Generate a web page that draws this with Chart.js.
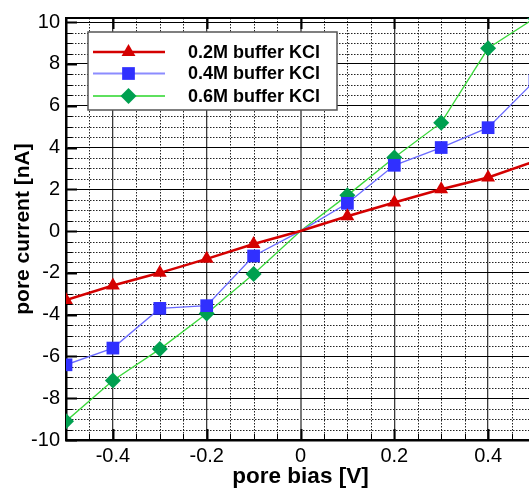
<!DOCTYPE html>
<html>
<head>
<meta charset="utf-8">
<script src="https://cdn.jsdelivr.net/npm/chart.js@4.4.1/dist/chart.umd.min.js"></script>
<style>
    html, body { margin: 0; padding: 0; background: #fff; overflow: hidden; }
    #wrap { width: 529px; height: 492px; overflow: hidden; }
</style>
</head>
<body>
<div id="wrap">
    <canvas id="iv-chart" width="545" height="492"></canvas>
</div>
<script>
// Pore current vs bias for three buffer concentrations
const bias = [-0.5, -0.4, -0.3, -0.2, -0.1, 0, 0.1, 0.2, 0.3, 0.4, 0.5];
const kcl02 = [-3.3, -2.6, -2.0, -1.33, -0.62, 0, 0.71, 1.37, 2.0, 2.57, 3.35];
const kcl04 = [-6.4, -5.6, -3.7, -3.57, -1.19, 0, 1.33, 3.15, 4.0, 4.95, 7.2];
const kcl06 = [-9.1, -7.15, -5.65, -3.95, -2.05, 0, 1.71, 3.52, 5.19, 8.75, 10.2];

const seriesNames = ['0.2M buffer KCl', '0.4M buffer KCl', '0.6M buffer KCl'];
const xTicks = [-0.4, -0.2, 0, 0.2, 0.4];
const yTicks = [-10, -8, -6, -4, -2, 0, 2, 4, 6, 8, 10];

const FONT = "'Liberation Sans', Arial, sans-serif";

const styles = [
    { line: '#d40000', mark: '#d40000', width: 2.6, shape: 'triangle', r: 8 },
    { line: '#6a6aff', mark: '#3030ff', width: 1.3, shape: 'rect', r: 9 },
    { line: '#3ad83a', mark: '#00a050', width: 1.3, shape: 'rectRot', r: 8 }
];

function toPoints(values) {
    return bias.map((b, i) => ({ x: b, y: values[i] }));
}

function makeDataset(label, values, st) {
    return {
        label: label,
        data: toPoints(values),
        showLine: true,
        borderColor: st.line,
        borderWidth: st.width,
        backgroundColor: st.mark,
        pointBackgroundColor: st.mark,
        pointBorderColor: st.mark,
        pointBorderWidth: 0,
        pointStyle: st.shape,
        pointRadius: ctx => (bias[ctx.dataIndex] === 0 ? 0 : st.r),
        pointHoverRadius: ctx => (bias[ctx.dataIndex] === 0 ? 0 : st.r)
    };
}

function drawMarker(ctx, shape, x, y, r) {
    ctx.beginPath();
    if (shape === 'triangle') {
        for (let k = 0; k < 3; k++) {
            const a = k * 2 * Math.PI / 3;
            const px = x + Math.sin(a) * r;
            const py = y - Math.cos(a) * r;
            if (k === 0) ctx.moveTo(px, py); else ctx.lineTo(px, py);
        }
    } else if (shape === 'rect') {
        const s = r * Math.SQRT1_2;
        ctx.rect(x - s, y - s, 2 * s, 2 * s);
    } else {
        ctx.moveTo(x - r, y);
        ctx.lineTo(x, y - r);
        ctx.lineTo(x + r, y);
        ctx.lineTo(x, y + r);
    }
    ctx.closePath();
    ctx.fill();
}

// dotted minor grid plus inward tick marks and the top frame line
const framePlugin = {
    id: 'frame',
    beforeDraw(chart) {
        const { ctx, chartArea: a, scales: { x, y } } = chart;
        ctx.save();
        ctx.strokeStyle = '#222';
        ctx.lineWidth = 1;
        ctx.setLineDash([1.5, 1.5]);
        for (let i = -10; i <= 10; i++) {
            const v = i * 0.05;
            if (i % 4 === 0) continue;
            const px = Math.round(x.getPixelForValue(v)) + 0.5;
            ctx.beginPath();
            ctx.moveTo(px, a.top);
            ctx.lineTo(px, a.bottom);
            ctx.stroke();
        }
        for (let i = -20; i <= 20; i++) {
            const v = i * 0.5;
            if (i % 4 === 0 || v > y.max) continue;
            const py = Math.round(y.getPixelForValue(v)) + 0.5;
            ctx.beginPath();
            ctx.moveTo(a.left, py);
            ctx.lineTo(a.right, py);
            ctx.stroke();
        }
        ctx.restore();
    },
    beforeDatasetsDraw(chart) {
        const { ctx, chartArea: a, scales: { x, y } } = chart;
        ctx.save();
        ctx.strokeStyle = '#000';
        // left axis ticks
        for (let i = -20; i <= 20; i++) {
            const v = i * 0.5;
            if (v > y.max) continue;
            const major = i % 4 === 0;
            const py = Math.round(y.getPixelForValue(v)) + 0.5;
            ctx.lineWidth = major ? 2 : 1;
            ctx.beginPath();
            ctx.moveTo(a.left, py);
            ctx.lineTo(a.left + (major ? 11 : 6), py);
            ctx.stroke();
        }
        // bottom and top axis ticks
        for (let i = -10; i <= 10; i++) {
            const v = i * 0.05;
            const major = i % 4 === 0;
            const px = Math.round(x.getPixelForValue(v)) + 0.5;
            ctx.lineWidth = major ? 2 : 1;
            ctx.beginPath();
            ctx.moveTo(px, a.bottom);
            ctx.lineTo(px, a.bottom - (major ? 11 : 6));
            ctx.stroke();
            if (major) {
                ctx.beginPath();
                ctx.moveTo(px, a.top);
                ctx.lineTo(px, a.top + 11);
                ctx.stroke();
            }
        }
        ctx.lineWidth = 2;
        ctx.beginPath();
        ctx.moveTo(a.left - 1, a.top);
        ctx.lineTo(a.right, a.top);
        ctx.stroke();
        ctx.restore();
    },
    afterDatasetsDraw(chart) {
        const { ctx } = chart;
        const box = { x: 88, y: 32, w: 249, h: 78 };
        const rows = [52, 73.5, 96];
        ctx.save();
        ctx.fillStyle = '#fff';
        ctx.fillRect(box.x, box.y, box.w, box.h);
        ctx.strokeStyle = '#555';
        ctx.lineWidth = 1.5;
        ctx.strokeRect(box.x, box.y, box.w, box.h);
        ctx.font = 'bold 18px ' + FONT;
        ctx.textBaseline = 'middle';
        ctx.textAlign = 'left';
        seriesNames.forEach((name, i) => {
            const st = styles[i];
            const ry = rows[i];
            ctx.strokeStyle = i === 1 ? '#8c8cff' : (i === 2 ? '#5ee05e' : st.line);
            ctx.lineWidth = i === 0 ? 2.6 : 2;
            ctx.beginPath();
            ctx.moveTo(93, ry);
            ctx.lineTo(165, ry);
            ctx.stroke();
            ctx.fillStyle = st.mark;
            drawMarker(ctx, st.shape, 128.5, ry, st.r);
            ctx.fillStyle = '#000';
            ctx.fillText(name, 188, ry + 1);
        });
        ctx.restore();
    }
};

Chart.defaults.color = '#000';
Chart.defaults.font.family = FONT;

new Chart(document.getElementById('iv-chart'), {
    type: 'scatter',
    data: {
        datasets: [
            makeDataset(seriesNames[0], kcl02, styles[0]),
            makeDataset(seriesNames[1], kcl04, styles[1]),
            makeDataset(seriesNames[2], kcl06, styles[2])
        ]
    },
    options: {
        responsive: false,
        animation: false,
        events: [],
        layout: { padding: { top: 15, right: 10, left: 0, bottom: 0 } },
        plugins: {
            legend: { display: false },
            tooltip: { enabled: false }
        },
        scales: {
            x: {
                type: 'linear',
                min: -0.5,
                max: 0.5,
                afterBuildTicks: scale => { scale.ticks = xTicks.map(v => ({ value: v })); },
                afterFit: scale => { scale.height = 52; },
                ticks: {
                    padding: 4,
                    font: { size: 20 },
                    callback: v => String(v)
                },
                grid: {
                    drawTicks: false,
                    color: ctx => (ctx.tick && ctx.tick.value === 0 ? '#7a7a7a' : '#3a3a3a'),
                    lineWidth: ctx => (ctx.tick && ctx.tick.value === 0 ? 2 : 1.3)
                },
                border: { color: '#000', width: 2.5 },
                title: {
                    display: true,
                    text: 'pore bias [V]',
                    font: { size: 22.5, weight: 'bold' },
                    padding: { top: 0, bottom: 2 }
                }
            },
            y: {
                type: 'linear',
                min: -10,
                max: 10.2,
                afterBuildTicks: scale => { scale.ticks = yTicks.map(v => ({ value: v })); },
                afterFit: scale => { scale.width = 66; },
                ticks: {
                    padding: 6,
                    font: { size: 20 },
                    callback: v => String(v)
                },
                grid: {
                    drawTicks: false,
                    color: '#000',
                    lineWidth: 1
                },
                border: { color: '#000', width: 2.5 },
                title: {
                    display: true,
                    text: 'pore current [nA]',
                    font: { size: 21, weight: 'bold' },
                    padding: { top: 11, bottom: 0 }
                }
            }
        }
    },
    plugins: [framePlugin]
});
</script>
</body>
</html>
